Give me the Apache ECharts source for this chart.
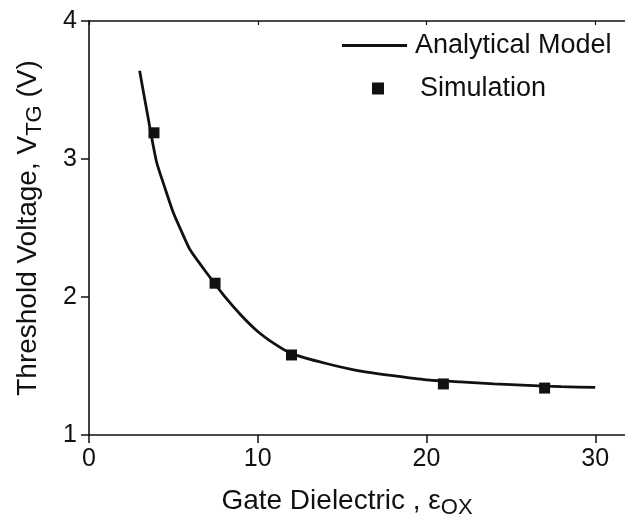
<!DOCTYPE html>
<html>
<head>
<meta charset="utf-8">
<script src="https://cdn.jsdelivr.net/npm/echarts@6/dist/echarts.min.js"></script>
<style>
html,body{margin:0;padding:0;background:#fff;}
#chart{width:625px;height:516px;}
</style>
</head>
<body>
<div id="chart"></div>
<script>
// Analytical model curve
var modelX = [3, 3.5, 4, 4.5, 5, 5.5, 6, 7, 8, 9, 10, 11, 12, 14, 16, 18, 20, 22, 24, 26, 28, 30];
var modelY = [3.64, 3.30, 2.98, 2.79, 2.61, 2.47, 2.34, 2.17, 2.01, 1.87, 1.75, 1.66, 1.59, 1.52, 1.465, 1.43, 1.40, 1.385, 1.37, 1.36, 1.35, 1.345];
// Simulation points
var simX = [3.85, 7.47, 12.0, 21.0, 27.0];
var simY = [3.19, 2.10, 1.58, 1.37, 1.34];
var xTicks = [0, 10, 20, 30];
var yTicks = [1, 2, 3, 4];

var FONT = '"Liberation Sans", Arial, Helvetica, sans-serif';
var INK = '#111';

function pairs(xs, ys) { return xs.map(function (x, i) { return [x, ys[i]]; }); }

var chart = echarts.init(document.getElementById('chart'), null, {renderer: 'canvas'});
var axisLine = {show: true, lineStyle: {color: INK, width: 1.6}};
var legendText = {fontFamily: FONT, fontSize: 27, color: INK};
var option = {
  backgroundColor: '#fff',
  animation: false,
  grid: {left: 89, top: 21, height: 414, width: 540, containLabel: false, outerBoundsMode: 'none'},
  legend: [{
    orient: 'vertical', left: 337, top: 27, itemWidth: 65, itemHeight: 3,
    icon: 'rect', textStyle: Object.assign({padding: [0, 0, 0, 3]}, legendText),
    data: ['Analytical Model']
  }, {
    orient: 'vertical', left: 367, top: 70, itemWidth: 12, itemHeight: 12,
    icon: 'rect', textStyle: Object.assign({padding: [0, 0, 0, 31]}, legendText),
    data: ['Simulation']
  }],
  xAxis: [{
    type: 'value', position: 'bottom', min: 0, max: 32, interval: 10,
    axisLine: axisLine,
    axisTick: {show: true, inside: false, length: 8, lineStyle: {color: INK, width: 1.5}},
    axisLabel: {fontFamily: FONT, fontSize: 25, color: INK, margin: 12, showMaxLabel: false,
      formatter: function (v) { return xTicks.indexOf(v) >= 0 ? String(v) : ''; }},
    splitLine: {show: false},
    name: '{m|Gate Dielectric , ε}{s|OX}',
    nameLocation: 'middle', nameGap: 48,
    nameTextStyle: {padding: [0, 24, 0, 0], rich: {
      m: {fontFamily: FONT, fontSize: 28, color: INK, lineHeight: 36},
      s: {fontFamily: FONT, fontSize: 22, color: INK, lineHeight: 36, verticalAlign: 'bottom'}
    }}
  }, {
    type: 'value', position: 'top', min: 0, max: 32, interval: 10,
    axisLine: axisLine,
    axisTick: {show: true, inside: true, length: 4, lineStyle: {color: INK, width: 1.2}},
    axisLabel: {show: false},
    splitLine: {show: false}
  }],
  yAxis: [{
    type: 'value', min: 1, max: 4, interval: 1,
    axisLine: axisLine,
    axisTick: {show: true, inside: false, length: 8, lineStyle: {color: INK, width: 1.5}},
    axisLabel: {fontFamily: FONT, fontSize: 25, color: INK, margin: 12,
      formatter: function (v) { return yTicks.indexOf(v) >= 0 ? String(v) : ''; }},
    splitLine: {show: false},
    name: '{m|Threshold Voltage, V}{s|TG}{m| (V)}',
    nameLocation: 'middle', nameGap: 43, nameRotate: 90,
    nameTextStyle: {rich: {
      m: {fontFamily: FONT, fontSize: 28, color: INK, lineHeight: 36},
      s: {fontFamily: FONT, fontSize: 22, color: INK, lineHeight: 36, verticalAlign: 'bottom'}
    }}
  }],
  series: [{
    name: 'Analytical Model', type: 'line', xAxisIndex: 0, yAxisIndex: 0,
    data: pairs(modelX, modelY), symbol: 'none', smooth: 0.2,
    lineStyle: {color: INK, width: 2.8}, itemStyle: {color: INK}, z: 2
  }, {
    name: 'Simulation', type: 'scatter', xAxisIndex: 0, yAxisIndex: 0,
    data: pairs(simX, simY), symbol: 'rect', symbolSize: 11,
    itemStyle: {color: INK, opacity: 1}, z: 3
  }]
};
chart.setOption(option);
</script>
</body>
</html>
